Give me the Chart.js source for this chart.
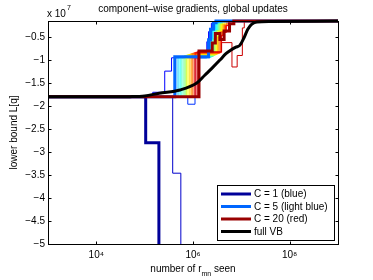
<!DOCTYPE html>
<html><head><meta charset="utf-8">
<script src="https://cdn.jsdelivr.net/npm/chart.js@4.4.0/dist/chart.umd.min.js"></script>
<style>html,body{margin:0;padding:0;background:#fff;}</style>
</head><body>
<canvas id="c" width="373" height="280" style="width:373px;height:280px;display:block"></canvas>
<script>
// ---- data (y values in units of 10^7) ----
const xTicks = [1e4, 1e6, 1e8];
const xTickLabels = ['10\u2074', '10\u2076', '10\u2078'];
const yTicks = [-0.5, -1, -1.5, -2, -2.5, -3, -3.5, -4, -4.5, -5];
const yTickLabels = ['\u22120.5', '\u22121', '\u22121.5', '\u22122', '\u22122.5', '\u22123', '\u22123.5', '\u22124', '\u22124.5', '\u22125'];
const legendLabels = ['C = 1 (blue)', 'C = 5 (light blue)', 'C = 20 (red)', 'full VB'];

// step series: [x where level starts, level]
const c1  = [[1e3,-1.8],[1.05e5,-2.8],[1.97e5,-7],[1e9,-7]];
const c2  = [[1e3,-1.8],[3.8e5,-3.46],[5.6e5,-7],[1e9,-7]];
const c3  = [[1e3,-1.8],[1.47e5,-1.70],[2.6e5,-1.24],[3.6e5,-0.95],[1.93e6,-0.60],[2.1e6,-0.38],[2.4e6,-0.20],[2.8e6,-0.152],[1e9,-0.152]];
const c4  = [[1e3,-1.8],[7.8e5,-1.96],[1.1e6,-0.90],[2.0e6,-0.58],[2.2e6,-0.36],[2.5e6,-0.19],[2.9e6,-0.152],[1e9,-0.152]];
const c5  = [[1e3,-1.8],[4.2e5,-0.93],[2.1e6,-0.56],[2.3e6,-0.33],[2.65e6,-0.19],[3.0e6,-0.152],[1e9,-0.152]];
const c6  = [[1e3,-1.8],[4.4e5,-0.95],[2.2e6,-0.55],[2.45e6,-0.34],[2.8e6,-0.19],[3.2e6,-0.152],[1e9,-0.152]];
const c7  = [[1e3,-1.8],[4.9e5,-0.94],[2.3e6,-0.56],[2.55e6,-0.34],[2.95e6,-0.20],[3.35e6,-0.152],[1e9,-0.152]];
const c8  = [[1e3,-1.8],[5.4e5,-0.93],[2.45e6,-0.55],[2.7e6,-0.35],[3.1e6,-0.20],[3.5e6,-0.152],[1e9,-0.152]];
const c9  = [[1e3,-1.8],[5.9e5,-0.92],[2.6e6,-0.54],[2.85e6,-0.35],[3.25e6,-0.21],[3.7e6,-0.152],[1e9,-0.152]];
const c10 = [[1e3,-1.8],[6.5e5,-0.91],[2.7e6,-0.53],[3.0e6,-0.36],[3.4e6,-0.21],[3.9e6,-0.152],[1e9,-0.152]];
const c11 = [[1e3,-1.8],[6.9e5,-0.90],[2.8e6,-0.52],[3.1e6,-0.36],[3.55e6,-0.22],[4.05e6,-0.152],[1e9,-0.152]];
const c12 = [[1e3,-1.8],[7.4e5,-0.89],[2.95e6,-0.51],[3.25e6,-0.37],[3.7e6,-0.22],[4.2e6,-0.152],[1e9,-0.152]];
const c13 = [[1e3,-1.8],[7.9e5,-0.88],[3.1e6,-0.50],[3.4e6,-0.37],[3.9e6,-0.23],[4.4e6,-0.152],[1e9,-0.152]];
const c14 = [[1e3,-1.8],[8.6e5,-0.87],[3.2e6,-0.50],[3.55e6,-0.38],[4.05e6,-0.23],[4.6e6,-0.152],[1e9,-0.152]];
const c15 = [[1e3,-1.8],[9.2e5,-0.86],[3.4e6,-0.49],[3.75e6,-0.38],[4.3e6,-0.24],[4.9e6,-0.152],[1e9,-0.152]];
const c16 = [[1e3,-1.8],[9.9e5,-0.85],[3.6e6,-0.48],[3.95e6,-0.39],[4.5e6,-0.24],[5.1e6,-0.152],[1e9,-0.152]];
const c17 = [[1e3,-1.8],[1.06e6,-0.84],[3.75e6,-0.47],[4.1e6,-0.39],[4.7e6,-0.25],[5.4e6,-0.152],[1e9,-0.152]];
const c18 = [[1e3,-1.8],[1.14e6,-0.83],[3.9e6,-0.46],[4.3e6,-0.40],[4.9e6,-0.25],[5.6e6,-0.152],[1e9,-0.152]];
const c19 = [[1e3,-1.8],[1.22e6,-0.82],[3.9e6,-0.62],[6.4e6,-1.15],[8.2e6,-0.90],[1.05e7,-0.30],[1.15e7,-0.152],[1e9,-0.152]];
const c20 = [[1e3,-1.8],[1.33e6,-0.80],[2.5e6,-0.63],[2.9e6,-0.42],[3.6e6,-0.55],[4.4e6,-0.37],[5.7e6,-0.21],[7.0e6,-0.152],[1e9,-0.152]];
const fullVB = [[1e3,-1.80],[1e4,-1.80],[5e4,-1.795],[1.0e5,-1.78],[2.0e5,-1.72],[5.4e5,-1.65],[1.2e6,-1.50],[1.75e6,-1.33],[2.45e6,-1.18],[3.6e6,-1.00],[4.8e6,-0.86],[6.1e6,-0.78],[7.7e6,-0.72],[9.3e6,-0.68],[1.13e7,-0.52],[1.36e7,-0.33],[1.65e7,-0.22],[2.1e7,-0.17],[4e7,-0.16],[1e9,-0.152]];

const series = [c1,c2,c3,c4,c5,c6,c7,c8,c9,c10,c11,c12,c13,c14,c15,c16,c17,c18,c19,c20];
// jet(20) colours
const jet = ['rgb(0,0,153)','rgb(0,0,204)','rgb(0,0,255)','rgb(0,51,255)','rgb(0,102,255)','rgb(0,153,255)','rgb(0,204,255)','rgb(0,255,255)','rgb(51,255,204)','rgb(102,255,153)','rgb(153,255,102)','rgb(204,255,51)','rgb(255,255,0)','rgb(255,204,0)','rgb(255,153,0)','rgb(255,102,0)','rgb(255,51,0)','rgb(255,0,0)','rgb(204,0,0)','rgb(153,0,0)'];

const FONT = '"Liberation Sans", Arial, Helvetica, sans-serif';
const toPts = a => a.map(p => ({x: p[0], y: p[1]}));
const CLIP = {left: 0, right: 0, top: 3, bottom: 0};

const datasets = [];
datasets.push({label: legendLabels[3], data: toPts(fullVB), borderColor: '#000', borderWidth: 3,
  cubicInterpolationMode: 'monotone', pointRadius: 0, order: 0, clip: CLIP, legendIdx: 3});
series.forEach((s, i) => {
  const C = i + 1;
  const thick = (C === 1 || C === 5 || C === 20);
  datasets.push({
    label: C === 1 ? legendLabels[0] : C === 5 ? legendLabels[1] : C === 20 ? legendLabels[2] : 'C = ' + C,
    data: toPts(s), borderColor: jet[i], borderWidth: thick ? 3 : 1, stepped: 'before',
    pointRadius: 0, order: C === 20 ? 1 : C === 1 ? 2 : C === 5 ? 3 : 4 + (20 - C), clip: CLIP,
    legendIdx: C === 1 ? 0 : C === 5 ? 1 : C === 20 ? 2 : -1
  });
});

const framePlugin = {
  id: 'frame',
  afterDraw(chart) {
    const {ctx, chartArea: a, scales: {x, y}} = chart;
    ctx.save();
    ctx.strokeStyle = '#000'; ctx.lineWidth = 1;
    const L = Math.round(a.left) + 0.5, R = Math.round(a.right) + 0.5, T = Math.round(a.top) + 0.5, B = Math.round(a.bottom) + 0.5;
    ctx.strokeRect(L, T, R - L, B - T);
    ctx.beginPath();
    xTicks.forEach(v => { const px = Math.round(x.getPixelForValue(v)) + 0.5;
      ctx.moveTo(px, B); ctx.lineTo(px, B - 3); ctx.moveTo(px, T); ctx.lineTo(px, T + 3); });
    yTicks.forEach(v => { const py = Math.round(y.getPixelForValue(v)) + 0.5;
      ctx.moveTo(L, py); ctx.lineTo(L + 3, py); ctx.moveTo(R, py); ctx.lineTo(R - 3, py); });
    ctx.stroke();
    // exponent label
    ctx.fillStyle = '#000'; ctx.textBaseline = 'alphabetic'; ctx.textAlign = 'left';
    ctx.font = '10px ' + FONT;
    ctx.fillText('x 10', 47, 17);
    const w = ctx.measureText('x 10').width;
    ctx.font = '7px ' + FONT;
    ctx.fillText('7', 47 + w + 1, 10);
    // x axis label with subscript
    const p1 = 'number of r', sub = 'mn', p2 = ' seen';
    ctx.font = '10px ' + FONT; const w1 = ctx.measureText(p1).width, w2 = ctx.measureText(p2).width;
    ctx.font = '7px ' + FONT; const ws = ctx.measureText(sub).width;
    let x0 = (a.left + a.right) / 2 - (w1 + ws + w2) / 2;
    ctx.font = '10px ' + FONT; ctx.fillText(p1, x0, 272);
    ctx.font = '7px ' + FONT; ctx.fillText(sub, x0 + w1, 276);
    ctx.font = '10px ' + FONT; ctx.fillText(p2, x0 + w1 + ws, 272);
    // legend
    const bx = 217.5, by = 185.5, bw = 117, bh = 55;
    ctx.fillStyle = '#fff'; ctx.fillRect(bx, by, bw, bh);
    ctx.strokeStyle = '#000'; ctx.lineWidth = 1; ctx.strokeRect(bx, by, bw, bh);
    const items = chart.data.datasets.filter(d => d.legendIdx >= 0).sort((p, q) => p.legendIdx - q.legendIdx);
    items.forEach((d, k) => {
      const ry = 194 + k * 12.5;
      ctx.strokeStyle = d.borderColor; ctx.lineWidth = 3;
      ctx.beginPath(); ctx.moveTo(221, ry); ctx.lineTo(251, ry); ctx.stroke();
      ctx.fillStyle = '#000'; ctx.font = '10px ' + FONT; ctx.textBaseline = 'middle';
      ctx.fillText(d.label, 254, ry + 0.5);
    });
    ctx.restore();
  }
};

Chart.defaults.font.family = FONT;
Chart.defaults.color = '#000';
new Chart(document.getElementById('c'), {
  type: 'line',
  data: {datasets},
  options: {
    responsive: false, animation: false, devicePixelRatio: 1,
    layout: {padding: {left: 0, right: 35, top: 0, bottom: 0}},
    plugins: {
      legend: {display: false}, tooltip: {enabled: false},
      title: {display: true, text: 'component\u2013wise gradients, global updates', fullSize: false,
        font: {size: 10, weight: 'normal'}, padding: {top: 3, bottom: 6}, color: '#000'}
    },
    scales: {
      x: {type: 'logarithmic', min: 1e3, max: 1e9,
        grid: {display: false, drawTicks: false}, border: {display: false},
        afterBuildTicks: s => { s.ticks = xTicks.map(v => ({value: v})); },
        afterFit: s => { s.height = 36; },
        ticks: {autoSkip: false, maxRotation: 0, padding: 5, font: {size: 10},
          callback: (v, i) => xTickLabels[i]}},
      y: {type: 'linear', min: -5, max: -0.15,
        grid: {display: false, drawTicks: false}, border: {display: false},
        afterBuildTicks: s => { s.ticks = yTicks.map(v => ({value: v})); },
        afterFit: s => { s.width = 48; },
        ticks: {autoSkip: false, padding: 3, font: {size: 10}, callback: (v, i) => yTickLabels[i]},
        title: {display: true, text: 'lower bound L[q]', font: {size: 10}, padding: {top: 8, bottom: 0}}}
    }
  },
  plugins: [framePlugin]
});
</script>
</body></html>
